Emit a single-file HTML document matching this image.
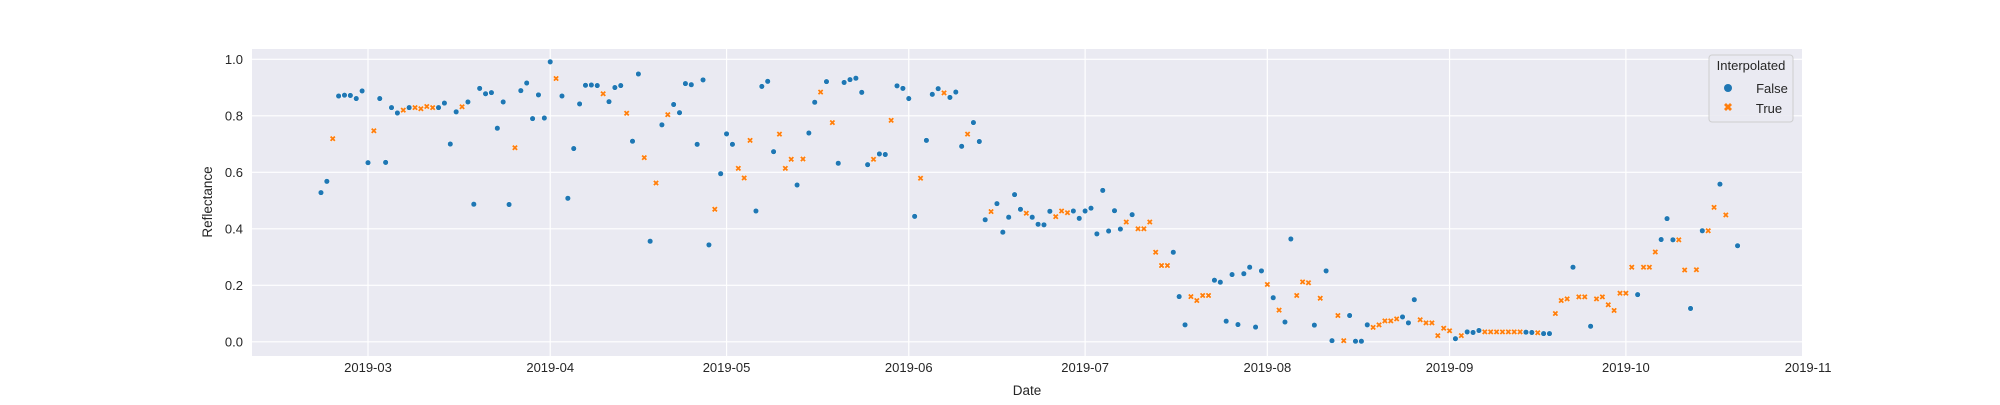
<!DOCTYPE html>
<html><head><meta charset="utf-8"><style>
body{margin:0;background:#fff;}
svg text{font-family:"Liberation Sans",Arial,sans-serif;fill:#262626;}
</style></head><body>
<svg id="chart" width="2000" height="400" xmlns="http://www.w3.org/2000/svg">
<rect x="252" y="49" width="1550" height="307" fill="#eaeaf2"/>
<g id="grid"></g>
<g id="xticks"></g>
<g id="yticks"></g>
<g id="marks"></g>
<text x="1027" y="395" font-size="13.5" text-anchor="middle">Date</text>
<text x="0" y="0" font-size="13.5" text-anchor="middle" transform="translate(212,202) rotate(-90)">Reflectance</text>
<g>
<rect x="1709" y="55" width="84" height="67" rx="3" fill="#eaeaf2" stroke="#cccccc" stroke-width="1" opacity="0.9"/>
<text x="1751" y="70" font-size="13" text-anchor="middle">Interpolated</text>
<g>
<circle cx="1728" cy="88" r="4" fill="#1f77b4"/>
<text x="1772" y="93" font-size="13" text-anchor="middle">False</text>
</g>
<g>
<path d="M1724,105 l2,-2 l2,2 l2,-2 l2,2 l-2,2 l2,2 l-2,2 l-2,-2 l-2,2 l-2,-2 l2,-2 z" fill="#ff7f0e"/>
<text x="1769" y="113" font-size="13" text-anchor="middle">True</text>
</g>
</g>
</svg>
<script>
const startDate = "2019-02-21";
const values = [
0.528,0.568,0.719,0.870,0.873,0.872,0.861,0.888,
0.634,0.747,0.861,0.635,0.829,0.810,0.820,0.829,0.829,0.825,0.833,0.829,0.829,0.845,0.700,0.814,0.832,0.849,0.487,0.897,0.878,0.882,0.756,0.849,0.486,0.687,0.889,0.916,0.790,0.874,0.792,
0.991,0.932,0.870,0.508,0.684,0.842,0.908,0.909,0.907,0.878,0.850,0.900,0.907,0.809,0.710,0.948,0.652,0.356,0.562,0.768,0.804,0.840,0.811,0.914,0.910,0.699,0.927,0.343,0.469,0.595,
0.736,0.699,0.614,0.580,0.713,0.463,0.904,0.922,0.673,0.735,0.614,0.646,0.555,0.647,0.739,0.848,0.884,0.921,0.776,0.632,0.918,0.928,0.933,0.883,0.627,0.646,0.665,0.663,0.784,0.906,0.897,
0.861,0.444,0.579,0.713,0.876,0.896,0.881,0.865,0.884,0.692,0.735,0.776,0.709,0.432,0.461,0.489,0.388,0.441,0.521,0.469,0.455,0.441,0.416,0.414,0.462,0.443,0.463,0.457,0.463,0.437,
0.463,0.473,0.382,0.536,0.392,0.464,0.399,0.424,0.450,0.400,0.400,0.424,0.317,0.270,0.270,0.317,0.160,0.060,0.160,0.146,0.164,0.164,0.218,0.211,0.073,0.238,0.061,0.241,0.264,0.052,0.251,
0.203,0.156,0.112,0.070,0.364,0.164,0.212,0.209,0.059,0.154,0.251,0.004,0.093,0.004,0.093,0.002,0.002,0.060,0.051,0.060,0.074,0.074,0.081,0.088,0.067,0.149,0.078,0.067,0.067,0.022,0.048,
0.039,0.011,0.022,0.035,0.033,0.040,0.035,0.035,0.035,0.035,0.035,0.035,0.035,0.034,0.033,0.032,0.029,0.029,0.100,0.146,0.152,0.264,0.159,0.159,0.055,0.152,0.159,0.131,0.111,0.172,
0.172,0.264,0.167,0.264,0.264,0.318,0.362,0.436,0.361,0.361,0.254,0.118,0.255,0.393,0.393,0.476,0.558,0.449,null,0.340
];
const interpolated = [
0,0,1,0,0,0,0,0,
0,1,0,0,0,0,1,0,1,1,1,1,0,0,0,0,1,0,0,0,0,0,0,0,0,1,0,0,0,0,0,
0,1,0,0,0,0,0,0,0,1,0,0,0,1,0,0,1,0,1,0,1,0,0,0,0,0,0,0,1,0,
0,0,1,1,1,0,0,0,0,1,1,1,0,1,0,0,1,0,1,0,0,0,0,0,0,1,0,0,1,0,0,
0,0,1,0,0,0,1,0,0,0,1,0,0,0,1,0,0,0,0,0,1,0,0,0,0,1,1,1,0,0,
0,0,0,0,0,0,0,1,0,1,1,1,1,1,1,0,0,0,1,1,1,1,0,0,0,0,0,0,0,0,0,
1,0,1,0,0,1,1,1,0,1,0,0,1,1,0,0,0,0,1,1,1,1,1,0,0,0,1,1,1,1,1,
1,0,1,0,0,0,1,1,1,1,1,1,1,0,0,1,0,0,1,1,1,0,1,1,0,1,1,1,1,1,
1,1,0,1,1,1,0,0,0,1,1,0,1,0,1,1,0,1,0,0
];
const xTickLabels = ["2019-03","2019-04","2019-05","2019-06","2019-07","2019-08","2019-09","2019-10","2019-11"];
const yTickLabels = ["0.0","0.2","0.4","0.6","0.8","1.0"];

const NS = "http://www.w3.org/2000/svg";
const DAY = 86400000;
const t0 = Date.UTC(2019,2,1);
function xScale(ms){ return 368 + (ms - t0)/DAY * 5.878; }
function yScale(v){ return 341.8 - v*282.5; }
function mk(tag, attrs, parent){ const e=document.createElementNS(NS,tag); for(const k in attrs) e.setAttribute(k,attrs[k]); parent.appendChild(e); return e; }

const grid=document.getElementById('grid'), xt=document.getElementById('xticks'), yt=document.getElementById('yticks'), marks=document.getElementById('marks');
xTickLabels.forEach(lab=>{
  const p=lab.split('-'); const ms=Date.UTC(+p[0],+p[1]-1,1); const x=xScale(ms);
  if(x<1802){ const l=mk('line',{x1:x,x2:x,y1:49,y2:356,stroke:'#fff','stroke-width':1.2},grid);
    }
  const t=mk('text',{x:x,y:372,'font-size':13,'text-anchor':'middle'},xt); t.textContent=lab;
   
});
yTickLabels.forEach(lab=>{
  const y=yScale(parseFloat(lab));
  const l=mk('line',{x1:252,x2:1802,y1:y,y2:y,stroke:'#fff','stroke-width':1.2},grid);
   
  const t=mk('text',{x:243,y:y+4.5,'font-size':13,'text-anchor':'end'},yt); t.textContent=lab;
   
});
const sp=startDate.split('-'); const s0=Date.UTC(+sp[0],+sp[1]-1,+sp[2]);
values.forEach((v,i)=>{
  if(v===null) return;
  const x=xScale(s0+i*DAY), y=yScale(v);
  if(interpolated[i]){
    const d=`M${x-3},${y-1.5} l1.5,-1.5 l1.5,1.5 l1.5,-1.5 l1.5,1.5 l-1.5,1.5 l1.5,1.5 l-1.5,1.5 l-1.5,-1.5 l-1.5,1.5 l-1.5,-1.5 l1.5,-1.5 z`;
    const p=mk('path',{d:d,fill:'#ff7f0e',stroke:'#fff','stroke-width':0.4},marks);
     
  } else {
    const c=mk('circle',{cx:x,cy:y,r:2.8,fill:'#1f77b4',stroke:'#fff','stroke-width':0.5},marks);
     
  }
});
</script>
</body></html>
